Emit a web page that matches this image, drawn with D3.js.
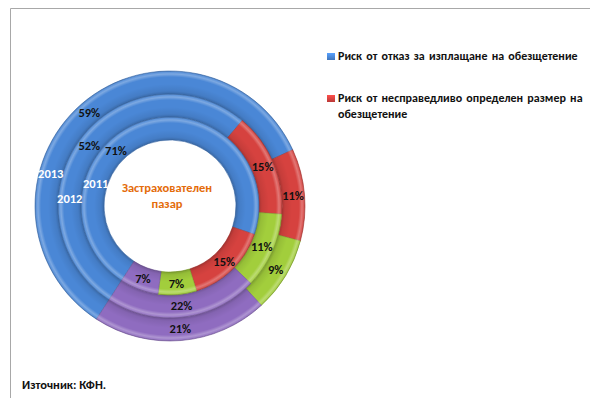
<!DOCTYPE html>
<html>
<head>
<meta charset="utf-8">
<script src="https://cdn.jsdelivr.net/npm/d3@7/dist/d3.min.js"></script>
<style>
  html, body { margin: 0; padding: 0; background: #ffffff; }
  svg { display: block; }
  text { font-family: Carlito, "Liberation Sans Narrow", "DejaVu Sans Condensed", "Open Sans", sans-serif; font-weight: bold; }
</style>
</head>
<body>
<svg id="chart" width="590" height="398"></svg>
<script>
// Rings from outside to inside
const years = ["2013", "2012", "2011"];
const categories = [
  "Риск от отказ за изплащане на обезщетение",
  "Риск от несправедливо определен размер на обезщетение",
  "Други рискове",
  "Друго"
];
const values2013 = [59, 11, 9, 21];
const values2012 = [52, 15, 11, 22];
const values2011 = [71, 15, 7, 7];
const seriesValues = [values2013, values2012, values2011];
const legendCount = 2;
const centerTitle = ["Застрахователен", "пазар"];
const sourceNote = "Източник: КФН.";

const colors = ["#4a87d6", "#d6423f", "#a2ce3c", "#8f6cc0"];

const svg = d3.select("#chart");
const W = 590, H = 398;

// frame
svg.append("path")
  .attr("d", `M${W},8.5 H10.5 V${H}`)
  .attr("fill", "none").attr("stroke", "#a8a8a8").attr("stroke-width", 1);

const cx = 170, cy = 206;
const hole = 66, ringW = 23;
const startDeg = 213;
const toRad = d => d * Math.PI / 180;

const pie = d3.pie().sort(null).value(d => d)
  .startAngle(toRad(startDeg)).endAngle(toRad(startDeg + 360));

const defs = svg.append("defs");
const g = svg.append("g").attr("transform", `translate(${cx},${cy})`);

seriesValues.forEach((vals, i) => {
  const outer = hole + ringW * (years.length - i);
  const inner = outer - ringW;
  const arc = d3.arc().innerRadius(inner).outerRadius(outer);
  const arcs = pie(vals);

  // bevel shading for this ring
  const gid = "bevel" + i;
  const grad = defs.append("radialGradient")
    .attr("id", gid).attr("gradientUnits", "userSpaceOnUse")
    .attr("cx", 0).attr("cy", 0).attr("r", outer);
  const f = r => (r / outer);
  [
    [f(inner), "#000", 0.22],
    [f(inner + 3), "#000", 0.08],
    [f(inner + 10), "#000", 0.0],
    [f(outer - 6), "#fff", 0.0],
    [f(outer - 3), "#fff", 0.28],
    [f(outer - 1.2), "#fff", 0.12],
    [1, "#000", 0.15]
  ].forEach(([o, c, a]) => grad.append("stop")
      .attr("offset", o).attr("stop-color", c).attr("stop-opacity", a));

  const ring = g.append("g");
  ring.selectAll("path.seg").data(arcs).join("path")
    .attr("class", "seg")
    .attr("d", arc)
    .attr("fill", (d, k) => colors[k])
    .attr("stroke", (d, k) => d3.color(colors[k]).darker(0.6))
    .attr("stroke-width", 0.6);
  ring.selectAll("path.shade").data(arcs).join("path")
    .attr("class", "shade")
    .attr("d", arc)
    .attr("fill", `url(#${gid})`);

  // value labels at the middle of each segment
  const mid = (inner + outer) / 2;
  ring.selectAll("text.val").data(arcs).join("text")
    .attr("class", "val")
    .each(function (d, k) {
      let a = (d.startAngle + d.endAngle) / 2;
      if (i === 2 && k === 0) a -= toRad(25); // keep the large inner label clear of the hole
      d3.select(this)
        .attr("x", Math.sin(a) * mid)
        .attr("y", -Math.cos(a) * mid);
    })
    .attr("text-anchor", "middle").attr("dy", "0.35em")
    .attr("font-size", 12.5).attr("fill", "#111")
    .text(d => d.data + "%");
});

// series (year) labels on the left side of each ring
const yearAngles = [285, 274, 286.5];
years.forEach((y, i) => {
  const outer = hole + ringW * (years.length - i);
  const mid = outer - ringW / 2;
  const a = toRad(yearAngles[i]);
  g.append("text")
    .attr("x", Math.sin(a) * mid).attr("y", -Math.cos(a) * mid)
    .attr("text-anchor", "middle").attr("dy", "0.35em")
    .attr("font-size", 12.5).attr("fill", "#ffffff")
    .text(y);
});

// centre title
g.append("text")
  .attr("x", -3).attr("y", -14)
  .attr("text-anchor", "middle").attr("dy", "0.35em")
  .attr("font-size", 12.5).attr("fill", "#e46c0a")
  .selectAll("tspan").data(centerTitle).join("tspan")
  .attr("x", -3).attr("dy", (d, k) => k === 0 ? 0 : 16)
  .text(d => d);

// legend
const legend = svg.append("g").attr("transform", "translate(327,0)");
const legendRows = [60, 102];
categories.slice(0, legendCount).forEach((c, k) => {
  const row = legend.append("g").attr("transform", `translate(0,${legendRows[k]})`);
  const lg = defs.append("linearGradient").attr("id", "lg" + k)
    .attr("x1", 0).attr("y1", 0).attr("x2", 0).attr("y2", 1);
  lg.append("stop").attr("offset", 0).attr("stop-color", d3.color(colors[k]).brighter(0.5));
  lg.append("stop").attr("offset", 1).attr("stop-color", d3.color(colors[k]).darker(0.4));
  row.append("rect").attr("x", 0).attr("y", -7).attr("width", 8).attr("height", 7)
    .attr("fill", `url(#lg${k})`);
  // wrap the long label onto two lines
  const words = c.split(" ");
  const lines = k === 1 ? [words.slice(0, -1).join(" "), words[words.length - 1]] : [c];
  const t = row.append("text").attr("x", 11).attr("y", 0)
    .attr("font-size", 12).attr("fill", "#111");
  lines.forEach((ln, j) => t.append("tspan").attr("x", 11).attr("dy", j === 0 ? 0 : 16)
    .attr("word-spacing", 1.5).text(ln));
});

// source note
svg.append("text").attr("x", 22).attr("y", 389)
  .attr("font-size", 12.5).attr("fill", "#111").text(sourceNote);
</script>
</body>
</html>
